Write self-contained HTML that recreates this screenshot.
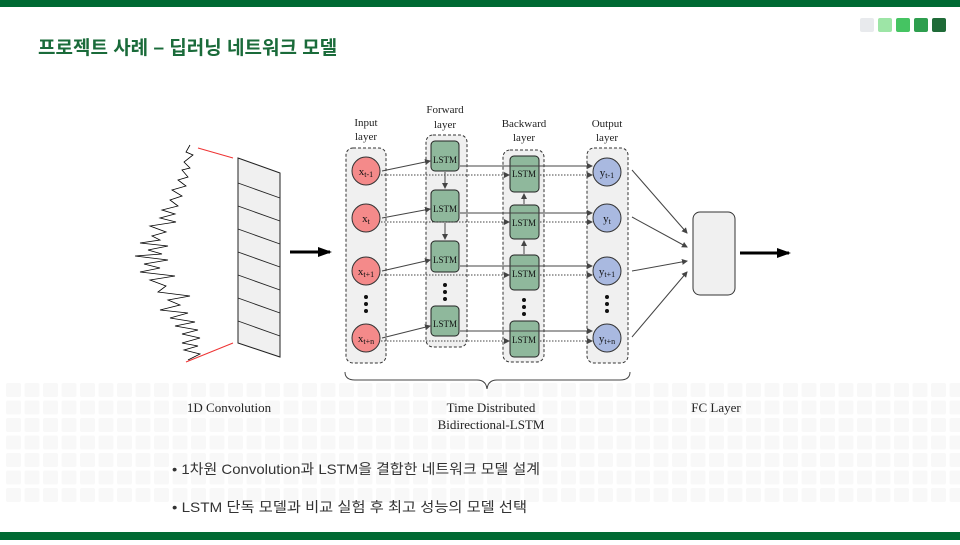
<!DOCTYPE html>
<html><head><meta charset="utf-8"><style>
body{margin:0;width:960px;height:540px;overflow:hidden;background:#fff;font-family:"Liberation Sans","Noto Sans CJK KR",sans-serif;}
</style></head><body>
<svg width="960" height="540" viewBox="0 0 960 540" xmlns="http://www.w3.org/2000/svg">
<defs>
<marker id="a" markerWidth="6" markerHeight="6" refX="5" refY="3" orient="auto" markerUnits="userSpaceOnUse"><path d="M0,0 L6,3 L0,6z" fill="#444"/></marker>
<marker id="b" markerWidth="14" markerHeight="10" refX="12" refY="5" orient="auto" markerUnits="userSpaceOnUse"><path d="M0,0 L14,5 L0,10z" fill="#000"/></marker>
<pattern id="g" x="6" y="383" width="18.5" height="17.5" patternUnits="userSpaceOnUse"><rect width="15" height="14" rx="2" fill="#f8f8f8"/></pattern>
</defs>
<rect x="0" y="0" width="960" height="7" fill="#006a33"/>
<rect x="0" y="532" width="960" height="8" fill="#006a33"/>
<rect x="6" y="383" width="954" height="122" fill="url(#g)"/>
<g>
<rect x="860" y="18" width="14" height="14" rx="2" fill="#e8eaed"/>
<rect x="878" y="18" width="14" height="14" rx="2" fill="#9de5a6"/>
<rect x="896" y="18" width="14" height="14" rx="2" fill="#45c462"/>
<rect x="914" y="18" width="14" height="14" rx="2" fill="#2e9e4e"/>
<rect x="932" y="18" width="14" height="14" rx="2" fill="#1f6b38"/>
</g>
<text x="38" y="54" font-size="19" font-weight="bold" fill="#1a6b3a" font-family="'Liberation Sans','Noto Sans CJK KR',sans-serif">프로젝트 사례 – 딥러닝 네트워크 모델</text>

<path d="M190,145 L186,152 L193,155 L184,162 L190,168 L182,170 L188,177 L178,180 L186,186 L172,190 L182,196 L170,200 L178,206 L162,210 L175,214 L160,218 L176,222 L150,226 L166,232 L152,236 L160,240 L140,243 L168,246 L148,250 L162,254 L135,256 L168,260 L144,264 L160,268 L140,272 L175,276 L150,280 L166,286 L158,292 L190,296 L168,300 L180,305 L160,310 L188,313 L170,318 L195,322 L175,326 L198,330 L182,334 L200,338 L182,343 L198,346 L184,350 L200,354 L188,360" fill="none" stroke="#000" stroke-width="0.8"/>
<line x1="198" y1="148" x2="233" y2="158" stroke="#e33" stroke-width="1"/>
<line x1="186" y1="362" x2="233" y2="343" stroke="#e33" stroke-width="1"/>
<polygon points="238,158 280,173 280,357 238,343" fill="#f0f0f0" stroke="#222" stroke-width="1"/>
<g stroke="#222" stroke-width="0.9">
<line x1="238" y1="183" x2="280" y2="198"/><line x1="238" y1="206" x2="280" y2="221"/>
<line x1="238" y1="229" x2="280" y2="244"/><line x1="238" y1="252" x2="280" y2="267"/>
<line x1="238" y1="275" x2="280" y2="290"/><line x1="238" y1="298" x2="280" y2="313"/>
<line x1="238" y1="321" x2="280" y2="336"/>
</g>
<line x1="290" y1="252" x2="330" y2="252" stroke="#000" stroke-width="3" marker-end="url(#b)"/>

<g fill="#f0f0f0" stroke="#333" stroke-dasharray="3,2" stroke-width="1">
<rect x="346" y="148" width="40" height="215" rx="7"/>
<rect x="426" y="135" width="41" height="212" rx="7"/>
<rect x="503" y="150" width="41" height="212" rx="7"/>
<rect x="587" y="148" width="41" height="215" rx="7"/>
</g>
<g font-family="'Liberation Serif',serif" font-size="11" fill="#222" text-anchor="middle">
<text x="366" y="126">Input</text><text x="366" y="140">layer</text>
<text x="445" y="113">Forward</text><text x="445" y="128">layer</text>
<text x="524" y="127">Backward</text><text x="524" y="141">layer</text>
<text x="607" y="127">Output</text><text x="607" y="141">layer</text>
</g>
<g fill="#8fb89c" stroke="#222" stroke-width="1">
<rect x="431" y="141" width="28" height="30" rx="4"/><rect x="431" y="190" width="28" height="32" rx="4"/>
<rect x="431" y="241" width="28" height="31" rx="4"/><rect x="431" y="306" width="28" height="30" rx="4"/>
<rect x="510" y="156" width="29" height="36" rx="4"/><rect x="510" y="205" width="29" height="34" rx="4"/>
<rect x="510" y="255" width="29" height="35" rx="4"/><rect x="510" y="321" width="29" height="36" rx="4"/>
</g>
<g font-family="'Liberation Serif',serif" font-size="9" fill="#111" text-anchor="middle">
<text x="445" y="163">LSTM</text><text x="445" y="212">LSTM</text><text x="445" y="263">LSTM</text><text x="445" y="327">LSTM</text>
<text x="524" y="177">LSTM</text><text x="524" y="226">LSTM</text><text x="524" y="277">LSTM</text><text x="524" y="343">LSTM</text>
</g>
<g stroke="#333" stroke-width="1">
<circle cx="366" cy="171" r="14" fill="#f48a8a"/><circle cx="366" cy="218" r="14" fill="#f48a8a"/>
<circle cx="366" cy="271" r="14" fill="#f48a8a"/><circle cx="366" cy="338" r="14" fill="#f48a8a"/>
<circle cx="607" cy="172" r="14" fill="#a9b9e0"/><circle cx="607" cy="218" r="14" fill="#a9b9e0"/>
<circle cx="607" cy="271" r="14" fill="#a9b9e0"/><circle cx="607" cy="338" r="14" fill="#a9b9e0"/>
</g>
<g font-family="'Liberation Serif',serif" font-size="11" fill="#111" text-anchor="middle">
<text x="366" y="175">x<tspan font-size="8" dy="2">t-1</tspan></text>
<text x="366" y="222">x<tspan font-size="8" dy="2">t</tspan></text>
<text x="366" y="275">x<tspan font-size="8" dy="2">t+1</tspan></text>
<text x="366" y="342">x<tspan font-size="8" dy="2">t+n</tspan></text>
<text x="607" y="176">y<tspan font-size="8" dy="2">t-1</tspan></text>
<text x="607" y="222">y<tspan font-size="8" dy="2">t</tspan></text>
<text x="607" y="275">y<tspan font-size="8" dy="2">t+1</tspan></text>
<text x="607" y="342">y<tspan font-size="8" dy="2">t+n</tspan></text>
</g>
<g fill="#111">
<circle cx="366" cy="297" r="2"/><circle cx="366" cy="304" r="2"/><circle cx="366" cy="311" r="2"/>
<circle cx="445" cy="285" r="2"/><circle cx="445" cy="292" r="2"/><circle cx="445" cy="299" r="2"/>
<circle cx="524" cy="300" r="2"/><circle cx="524" cy="307" r="2"/><circle cx="524" cy="314" r="2"/>
<circle cx="607" cy="297" r="2"/><circle cx="607" cy="304" r="2"/><circle cx="607" cy="311" r="2"/>
</g>
<g stroke="#444" stroke-width="1" marker-end="url(#a)">
<line x1="382" y1="171" x2="430" y2="161"/><line x1="382" y1="218" x2="430" y2="209"/>
<line x1="382" y1="271" x2="430" y2="260"/><line x1="382" y1="338" x2="430" y2="326"/>
<line x1="460" y1="166" x2="592" y2="166"/><line x1="460" y1="213" x2="592" y2="213"/>
<line x1="460" y1="266" x2="592" y2="266"/><line x1="460" y1="331" x2="592" y2="331"/>
<line x1="445" y1="172" x2="445" y2="188"/><line x1="445" y1="223" x2="445" y2="239"/>
<line x1="524" y1="204" x2="524" y2="194"/><line x1="524" y1="254" x2="524" y2="241"/>
<line x1="632" y1="170" x2="687" y2="233"/><line x1="632" y1="217" x2="687" y2="247"/>
<line x1="632" y1="271" x2="687" y2="261"/><line x1="632" y1="337" x2="687" y2="272"/>
</g>
<g stroke="#444" stroke-width="1" stroke-dasharray="1.5,1.5" marker-end="url(#a)">
<line x1="381" y1="175" x2="509" y2="175"/><line x1="381" y1="222" x2="509" y2="222"/>
<line x1="381" y1="275" x2="509" y2="275"/><line x1="381" y1="341" x2="509" y2="341"/>
<line x1="540" y1="175" x2="592" y2="175"/><line x1="540" y1="222" x2="592" y2="222"/>
<line x1="540" y1="275" x2="592" y2="275"/><line x1="540" y1="341" x2="592" y2="341"/>
</g>
<rect x="693" y="212" width="42" height="83" rx="7" fill="#f0f0f0" stroke="#333"/>
<line x1="740" y1="253" x2="789" y2="253" stroke="#000" stroke-width="3" marker-end="url(#b)"/>
<path d="M345,372 Q345,380 355,380 L477,380 Q486,380 487,389 Q488,380 497,380 L620,380 Q630,380 630,372" fill="none" stroke="#444" stroke-width="1"/>
<g font-family="'Liberation Serif',serif" font-size="13" fill="#222" text-anchor="middle">
<text x="229" y="412">1D Convolution</text>
<text x="491" y="412">Time Distributed</text>
<text x="491" y="429">Bidirectional-LSTM</text>
<text x="716" y="412">FC Layer</text>
</g>
<g font-size="14" fill="#333" font-family="'Liberation Sans','Noto Sans CJK KR',sans-serif">
<text x="172" y="474" textLength="368" lengthAdjust="spacingAndGlyphs">•  1차원 Convolution과 LSTM을 결합한 네트워크 모델 설계</text>
<text x="172" y="512" textLength="355" lengthAdjust="spacingAndGlyphs">•  LSTM 단독 모델과 비교 실험 후 최고 성능의 모델 선택</text>
</g>
</svg>
</body></html>
